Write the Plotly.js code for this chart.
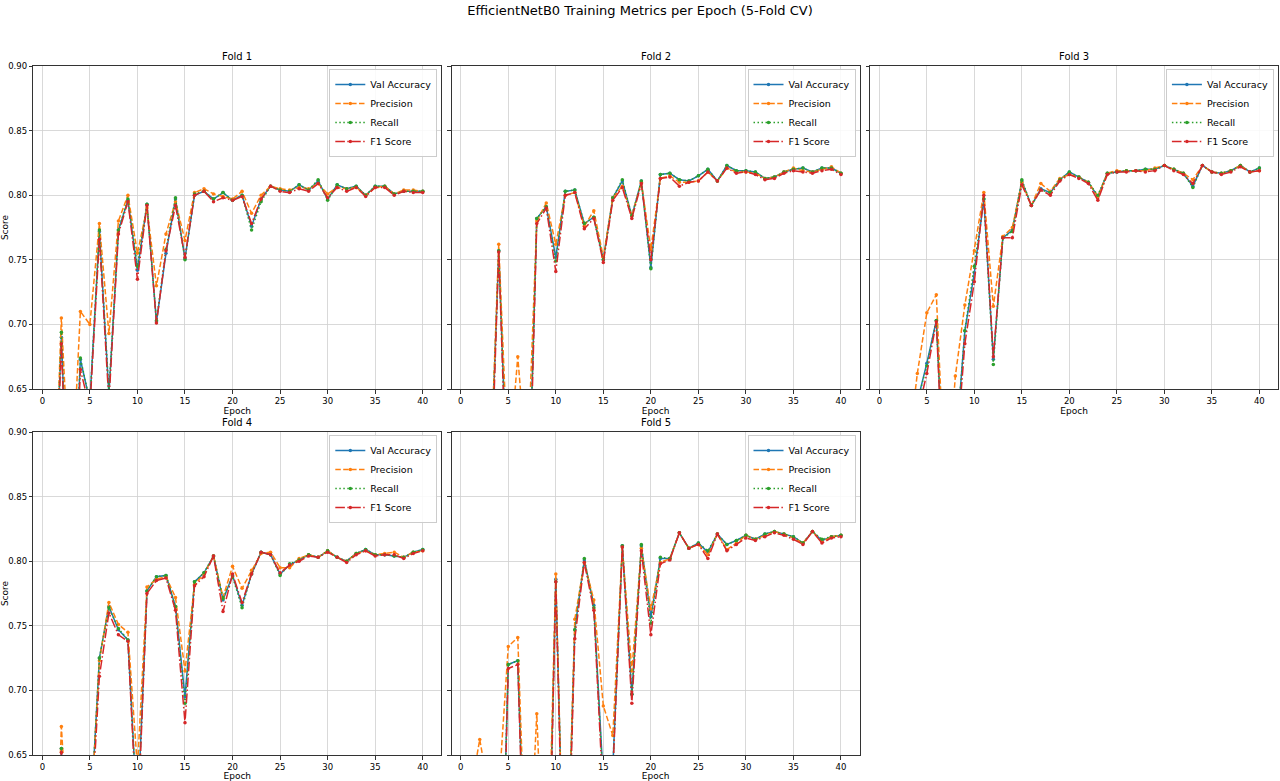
<!DOCTYPE html>
<html>
<head>
<meta charset="utf-8">
<script src="https://cdn.plot.ly/plotly-3.0.1.min.js"></script>
<style>html,body{margin:0;padding:0;background:#fff;}#chart{width:1280px;height:781px;}</style>
</head>
<body>
<div id="chart"></div>
<script>
const epochs = [1,2,3,4,5,6,7,8,9,10,11,12,13,14,15,16,17,18,19,20,21,22,23,24,25,26,27,28,29,30,31,32,33,34,35,36,37,38,39,40];
const metricNames = ["Val Accuracy", "Precision", "Recall", "F1 Score"];
const foldTitles = ["Fold 1", "Fold 2", "Fold 3", "Fold 4", "Fold 5"];
const xTicks = [0,5,10,15,20,25,30,35,40];
const yTicks = [0.65,0.70,0.75,0.80,0.85,0.90];

// Fold 1
const acc1  = [0.50,0.690,0.50,0.673,0.640,0.772,0.646,0.773,0.796,0.742,0.793,0.702,0.755,0.797,0.751,0.800,0.803,0.797,0.802,0.796,0.800,0.776,0.797,0.807,0.804,0.803,0.808,0.804,0.811,0.797,0.808,0.805,0.807,0.800,0.807,0.807,0.801,0.803,0.803,0.803];
const prec1 = [0.50,0.705,0.56,0.710,0.700,0.778,0.693,0.780,0.800,0.755,0.790,0.730,0.770,0.795,0.765,0.802,0.805,0.801,0.799,0.797,0.803,0.786,0.800,0.807,0.805,0.804,0.806,0.805,0.809,0.801,0.806,0.805,0.806,0.800,0.806,0.807,0.801,0.804,0.804,0.803];
const rec1  = [0.50,0.694,0.50,0.674,0.640,0.773,0.648,0.773,0.797,0.745,0.793,0.703,0.758,0.798,0.750,0.801,0.803,0.797,0.802,0.796,0.800,0.773,0.795,0.807,0.804,0.803,0.808,0.804,0.812,0.796,0.808,0.805,0.807,0.800,0.807,0.807,0.801,0.803,0.803,0.803];
const f1s1  = [0.48,0.685,0.48,0.665,0.635,0.766,0.640,0.770,0.795,0.735,0.792,0.701,0.757,0.792,0.752,0.800,0.803,0.795,0.798,0.796,0.799,0.778,0.797,0.807,0.803,0.802,0.805,0.803,0.809,0.798,0.806,0.803,0.806,0.799,0.806,0.806,0.800,0.803,0.802,0.802];

// Fold 2
const acc2  = [0.50,0.60,0.55,0.757,0.55,0.60,0.52,0.782,0.791,0.752,0.803,0.804,0.778,0.783,0.750,0.798,0.811,0.784,0.811,0.744,0.816,0.817,0.812,0.811,0.815,0.820,0.811,0.823,0.819,0.819,0.818,0.813,0.814,0.818,0.820,0.821,0.818,0.821,0.821,0.817];
const prec2 = [0.50,0.62,0.56,0.762,0.585,0.675,0.585,0.780,0.794,0.762,0.800,0.802,0.776,0.788,0.752,0.798,0.807,0.784,0.810,0.758,0.813,0.815,0.810,0.810,0.811,0.818,0.811,0.821,0.818,0.818,0.817,0.813,0.814,0.818,0.821,0.819,0.818,0.820,0.822,0.817];
const rec2  = [0.50,0.60,0.55,0.757,0.55,0.60,0.52,0.782,0.791,0.749,0.803,0.804,0.778,0.783,0.750,0.798,0.812,0.784,0.811,0.743,0.816,0.817,0.812,0.811,0.815,0.820,0.811,0.823,0.819,0.819,0.818,0.813,0.814,0.818,0.820,0.821,0.818,0.821,0.821,0.817];
const f1s2  = [0.48,0.58,0.53,0.756,0.53,0.58,0.50,0.778,0.790,0.741,0.800,0.802,0.774,0.782,0.748,0.796,0.806,0.782,0.809,0.750,0.813,0.814,0.807,0.810,0.811,0.818,0.811,0.821,0.817,0.818,0.816,0.812,0.813,0.817,0.819,0.818,0.817,0.819,0.820,0.816];

// Fold 3
const acc3  = [0.40,0.45,0.55,0.640,0.670,0.703,0.55,0.60,0.695,0.740,0.797,0.673,0.767,0.773,0.811,0.792,0.805,0.802,0.812,0.818,0.814,0.810,0.799,0.817,0.818,0.819,0.819,0.820,0.820,0.823,0.820,0.817,0.807,0.823,0.818,0.817,0.819,0.823,0.818,0.821];
const prec3 = [0.40,0.45,0.60,0.662,0.709,0.723,0.56,0.66,0.715,0.757,0.802,0.714,0.768,0.775,0.810,0.792,0.809,0.803,0.813,0.816,0.814,0.810,0.799,0.817,0.819,0.819,0.819,0.819,0.821,0.823,0.820,0.817,0.812,0.823,0.818,0.817,0.819,0.823,0.818,0.819];
const rec3  = [0.40,0.45,0.55,0.640,0.668,0.703,0.55,0.60,0.695,0.745,0.797,0.669,0.767,0.772,0.812,0.792,0.804,0.802,0.812,0.818,0.814,0.810,0.800,0.817,0.818,0.819,0.819,0.820,0.820,0.823,0.820,0.817,0.806,0.823,0.818,0.817,0.819,0.823,0.818,0.821];
const f1s3  = [0.38,0.43,0.53,0.630,0.662,0.702,0.53,0.59,0.685,0.733,0.800,0.675,0.767,0.767,0.808,0.792,0.804,0.800,0.811,0.816,0.813,0.809,0.796,0.816,0.818,0.818,0.819,0.818,0.819,0.823,0.819,0.816,0.809,0.823,0.818,0.816,0.818,0.822,0.818,0.819];

// Fold 4
const acc4  = [0.45,0.655,0.50,0.45,0.59,0.725,0.765,0.747,0.739,0.60,0.777,0.788,0.789,0.765,0.695,0.784,0.791,0.804,0.770,0.789,0.766,0.790,0.807,0.805,0.790,0.797,0.801,0.805,0.803,0.808,0.803,0.800,0.806,0.809,0.805,0.805,0.804,0.803,0.807,0.809];
const prec4 = [0.45,0.672,0.55,0.50,0.59,0.723,0.768,0.751,0.745,0.640,0.780,0.786,0.788,0.772,0.715,0.782,0.790,0.804,0.772,0.796,0.779,0.793,0.806,0.807,0.795,0.795,0.802,0.805,0.803,0.808,0.803,0.800,0.806,0.808,0.805,0.806,0.807,0.803,0.807,0.808];
const rec4  = [0.45,0.655,0.50,0.45,0.59,0.725,0.764,0.748,0.739,0.60,0.777,0.788,0.789,0.765,0.690,0.784,0.791,0.804,0.771,0.788,0.764,0.790,0.807,0.805,0.789,0.798,0.801,0.805,0.803,0.808,0.803,0.800,0.806,0.809,0.805,0.805,0.804,0.803,0.807,0.809];
const f1s4  = [0.44,0.652,0.49,0.44,0.58,0.711,0.760,0.743,0.738,0.59,0.775,0.785,0.787,0.762,0.675,0.781,0.788,0.804,0.761,0.790,0.768,0.790,0.807,0.805,0.791,0.797,0.800,0.804,0.803,0.807,0.803,0.799,0.805,0.808,0.804,0.805,0.805,0.802,0.806,0.808];

// Fold 5
const acc5  = [0.40,0.55,0.45,0.45,0.720,0.723,0.50,0.55,0.47,0.786,0.50,0.747,0.801,0.766,0.630,0.640,0.812,0.697,0.812,0.757,0.802,0.802,0.822,0.810,0.814,0.807,0.821,0.813,0.816,0.820,0.817,0.821,0.823,0.821,0.819,0.814,0.823,0.816,0.819,0.820];
const prec5 = [0.62,0.662,0.62,0.622,0.734,0.741,0.53,0.682,0.50,0.790,0.50,0.755,0.799,0.770,0.688,0.665,0.811,0.715,0.810,0.763,0.799,0.802,0.822,0.810,0.813,0.805,0.821,0.809,0.814,0.820,0.817,0.820,0.823,0.821,0.818,0.814,0.823,0.815,0.819,0.820];
const rec5  = [0.40,0.55,0.45,0.45,0.720,0.723,0.50,0.55,0.47,0.784,0.50,0.747,0.802,0.764,0.625,0.640,0.812,0.697,0.813,0.752,0.803,0.802,0.822,0.810,0.814,0.808,0.821,0.813,0.816,0.820,0.817,0.821,0.823,0.821,0.819,0.814,0.823,0.817,0.819,0.820];
const f1s5  = [0.38,0.53,0.43,0.43,0.717,0.720,0.48,0.53,0.45,0.784,0.48,0.740,0.799,0.762,0.615,0.635,0.811,0.690,0.808,0.743,0.798,0.801,0.822,0.810,0.813,0.802,0.821,0.808,0.813,0.818,0.816,0.819,0.822,0.820,0.817,0.813,0.823,0.814,0.818,0.819];

const folds = [
  [acc1, prec1, rec1, f1s1],
  [acc2, prec2, rec2, f1s2],
  [acc3, prec3, rec3, f1s3],
  [acc4, prec4, rec4, f1s4],
  [acc5, prec5, rec5, f1s5]
];

const colors = ["#1f77b4", "#ff7f0e", "#2ca02c", "#d62728"];
const dashes = ["solid", "5.5px,2.4px", "1.5px,2.5px", "9.6px,2.4px,1.5px,2.4px"];
const W = 1280, H = 781;
const xDomPx = [[33.3, 441.3], [451.7, 859.5], [870.3, 1277.9]];
const yDomPx = [[66, 389], [432, 755]];

const traces = [];
const layout = {
  width: W, height: H,
  margin: {l: 0, r: 0, t: 0, b: 0},
  paper_bgcolor: "#ffffff",
  plot_bgcolor: "#ffffff",
  font: {family: "DejaVu Sans, sans-serif", color: "#000000", size: 9},
  title: {text: "EfficientNetB0 Training Metrics per Epoch (5-Fold CV)", x: 0.5, xanchor: "center",
          y: 1 - 10 / H, yanchor: "middle", yref: "container", font: {size: 13, color: "#000"}},
  annotations: []
};

folds.forEach((series, i) => {
  const row = Math.floor(i / 3), col = i % 3;
  const ax = i === 0 ? "" : String(i + 1);
  const legName = i === 0 ? "legend" : "legend" + (i + 1);
  series.forEach((vals, k) => {
    traces.push({
      type: "scatter", mode: "lines+markers",
      x: epochs, y: vals,
      name: metricNames[k],
      xaxis: "x" + ax, yaxis: "y" + ax,
      legend: legName,
      line: {color: colors[k], width: 1.5, dash: dashes[k]},
      marker: {color: colors[k], size: 3.5, symbol: "circle"},
      cliponaxis: true
    });
  });
  const xd = [xDomPx[col][0] / W, xDomPx[col][1] / W];
  const yd = [1 - yDomPx[row][1] / H, 1 - yDomPx[row][0] / H];
  layout["xaxis" + ax] = {
    domain: xd, anchor: "y" + ax, range: [-0.95, 41.95],
    tickvals: xTicks, ticktext: xTicks.map(String),
    ticks: "outside", ticklen: 3.5, tickcolor: "#333", tickfont: {size: 8.5},
    showgrid: true, gridcolor: "#d0d0d0", gridwidth: 0.8, zeroline: false,
    showline: true, linecolor: "#333", linewidth: 1, mirror: true,
    title: {text: "Epoch", font: {size: 9}, standoff: 1}
  };
  layout["yaxis" + ax] = {
    domain: yd, anchor: "x" + ax, range: [0.65, 0.90],
    tickvals: yTicks, ticktext: yTicks.map(v => v.toFixed(2)),
    ticks: "outside", ticklen: 3.5, tickcolor: "#333", tickfont: {size: 8.5},
    showticklabels: col === 0,
    showgrid: true, gridcolor: "#d0d0d0", gridwidth: 0.8, zeroline: false,
    showline: true, linecolor: "#333", linewidth: 1, mirror: true,
    title: col === 0 ? {text: "Score", font: {size: 9}, standoff: 4} : {text: ""}
  };
  layout[legName] = {
    x: (xDomPx[col][1] - 4) / W, xanchor: "right",
    y: 1 - (yDomPx[row][0] + 3) / H, yanchor: "top",
    bgcolor: "rgba(255,255,255,0.85)", bordercolor: "#cccccc", borderwidth: 1,
    font: {size: 9.5, color: "#000"}, tracegroupgap: 0, itemwidth: 30
  };
  layout.annotations.push({
    text: foldTitles[i], xref: "paper", yref: "paper",
    x: (xd[0] + xd[1]) / 2, y: yd[1], xanchor: "center", yanchor: "bottom",
    yshift: 2, showarrow: false, font: {size: 10, color: "#000"}
  });
});

Plotly.newPlot("chart", traces, layout, {displayModeBar: false, staticPlot: true});
</script>
</body>
</html>
